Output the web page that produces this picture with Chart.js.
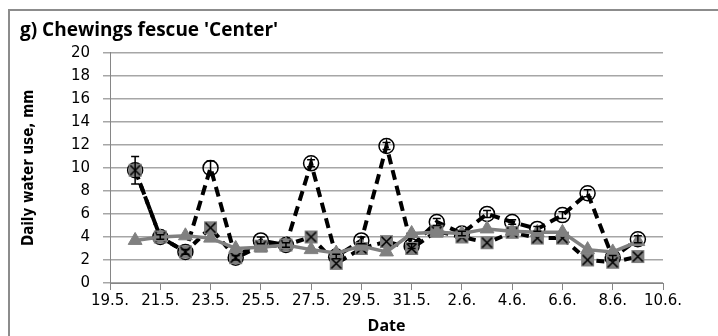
<!DOCTYPE html>
<html>
<head>
<meta charset="utf-8">
<script src="https://cdn.jsdelivr.net/npm/chart.js@4.4.0/dist/chart.umd.min.js"></script>
<style>
  body { margin: 0; overflow: hidden; background: #fff; }
  #wrap { position: relative; width: 718px; height: 336px; }
  #frame { position: absolute; left: 8px; top: 9px; width: 800px; height: 400px;
           border-left: 2px solid #8c8c8c; border-top: 2px solid #8c8c8c; pointer-events: none; }
</style>
</head>
<body>
<div id="wrap">
  <canvas id="myChart" width="718" height="336"></canvas>
  <div id="frame"></div>
</div>
<script>
// datumi mjerenja
var dates = ['20.5.', '21.5.', '22.5.', '23.5.', '24.5.', '25.5.', '26.5.', '27.5.', '28.5.', '29.5.', '30.5.', '31.5.',
             '1.6.', '2.6.', '3.6.', '4.6.', '5.6.', '6.6.', '7.6.', '8.6.', '9.6.'];
var tickLabels = ['19.5.', '21.5.', '23.5.', '25.5.', '27.5.', '29.5.', '31.5.', '2.6.', '4.6.', '6.6.', '8.6.', '10.6.'];

var circleSeries = [9.8, 4.0, 2.7, 10.0, 2.2, 3.7, 3.3, 10.4, 2.3, 3.7, 11.9, 3.2, 5.3, 4.3, 6.0, 5.3, 4.7, 5.9, 7.8, 2.2, 3.8];
var circleErr    = [1.2, 0.2, 0.2, 0.6, 0.2, 0.3, 0.2, 0.3, 0.2, 0.3, 0.3, 0.2, 0.3, 0.2, 0.3, 0.2, 0.2, 0.3, 0.3, 0.2, 0.3];
var squareSeries = [9.8, 4.0, 2.7, 4.8, 2.2, 3.2, 3.3, 4.0, 1.7, 3.0, 3.6, 3.0, 4.5, 4.0, 3.5, 4.4, 3.9, 3.9, 2.0, 1.8, 2.3];
var triSeries    = [3.7, 4.0, 4.1, 3.9, 3.0, 3.1, 3.3, 2.9, 2.6, 3.2, 2.7, 4.3, 4.4, 4.3, 4.7, 4.5, 4.4, 4.4, 2.9, 2.7, 3.6];

// dan od 19.5.
function dayOffset(d) {
    var p = d.split('.');
    var day = parseInt(p[0]);
    var month = parseInt(p[1]);
    return month == 5 ? day - 19 : day + 31 - 19;
}

function toPoints(values) {
    var pts = [];
    for (let i = 0; i < values.length; i++) {
        pts.push({x: dayOffset(dates[i]), y: values[i]});
    }
    return pts;
}

// sivi kvadrat sa X
function squareX() {
    var c = document.createElement('canvas');
    c.width = 15; c.height = 15;
    var g = c.getContext('2d');
    g.fillStyle = '#7f7f7f';
    g.fillRect(1, 1, 13, 13);
    g.strokeStyle = '#000';
    g.lineWidth = 1.6;
    g.beginPath();
    g.moveTo(2.5, 2.5); g.lineTo(12.5, 12.5);
    g.moveTo(12.5, 2.5); g.lineTo(2.5, 12.5);
    g.stroke();
    return c;
}

var errorBars = {
    id: 'errorBars',
    afterDatasetsDraw: function(chart) {
        var x = chart.scales.x, y = chart.scales.y, c = chart.ctx;
        c.save();
        c.strokeStyle = '#000';
        c.lineWidth = 1.5;
        for (let i = 0; i < circleSeries.length; i++) {
            var px = x.getPixelForValue(dayOffset(dates[i]));
            var top = y.getPixelForValue(circleSeries[i] + circleErr[i]);
            var bot = y.getPixelForValue(circleSeries[i] - circleErr[i]);
            c.beginPath();
            c.moveTo(px, top); c.lineTo(px, bot);
            c.moveTo(px - 4, top); c.lineTo(px + 4, top);
            c.moveTo(px - 4, bot); c.lineTo(px + 4, bot);
            c.stroke();
        }
        c.restore();
    }
};

var ctx = document.getElementById('myChart');
var myChart = new Chart(ctx, {
    type: 'line',
    data: {
        datasets: [{
            data: toPoints(triSeries),
            borderColor: '#808080',
            backgroundColor: '#808080',
            borderWidth: 3.5,
            pointStyle: 'triangle',
            pointRadius: 8,
            pointBorderWidth: 1,
            order: 0
        }, {
            data: toPoints(squareSeries),
            borderColor: '#000',
            borderWidth: 4,
            borderDash: [8, 6],
            pointStyle: squareX(),
            order: 1
        }, {
            data: toPoints(circleSeries),
            borderColor: '#000',
            backgroundColor: 'rgba(255,255,255,0)',
            borderWidth: 4,
            borderDash: [10, 6],
            pointStyle: 'circle',
            pointRadius: 7.5,
            pointBorderWidth: 1.5,
            pointBorderColor: '#000',
            order: 2
        }]
    },
    options: {
        responsive: false,
        animation: false,
        devicePixelRatio: 1,
        layout: { padding: { left: 20, right: 55, top: 19, bottom: 0 } },
        plugins: {
            legend: { display: false },
            tooltip: { enabled: false },
            title: {
                display: true,
                text: "g) Chewings fescue 'Center'",
                align: 'start',
                color: '#000',
                font: { family: 'Open Sans', size: 19, weight: 'bold' },
                padding: { top: 0, bottom: 11 }
            }
        },
        scales: {
            x: {
                type: 'linear',
                min: 0,
                max: 22,
                afterFit: function(scale) { scale.height = 53; },
                ticks: {
                    stepSize: 2,
                    color: '#000',
                    padding: 2,
                    maxRotation: 0,
                    font: { family: 'DejaVu Sans', size: 15 },
                    callback: function(v) { return tickLabels[v / 2]; }
                },
                grid: { drawOnChartArea: false, color: '#868686', tickColor: '#868686', tickLength: 7 },
                border: { color: '#868686', width: 1 },
                title: {
                    display: true,
                    text: 'Date',
                    color: '#000',
                    font: { family: 'Open Sans', size: 16, weight: 'bold' },
                    padding: { top: 0, bottom: 0 }
                }
            },
            y: {
                min: 0,
                max: 20,
                afterFit: function(scale) { scale.width = 90; },
                ticks: {
                    stepSize: 2,
                    color: '#000',
                    padding: 13,
                    font: { family: 'DejaVu Sans', size: 15 }
                },
                grid: { color: '#a6a6a6', tickColor: '#a6a6a6', tickLength: 7, lineWidth: 1.5 },
                border: { color: '#868686', width: 1 },
                title: {
                    display: true,
                    text: 'Daily water use, mm',
                    color: '#000',
                    font: { family: "'DejaVu Sans Condensed', Roboto, sans-serif", size: 15, weight: 'bold' },
                    padding: { top: 0, bottom: 0 }
                }
            }
        }
    },
    plugins: [errorBars]
});
</script>
</body>
</html>
